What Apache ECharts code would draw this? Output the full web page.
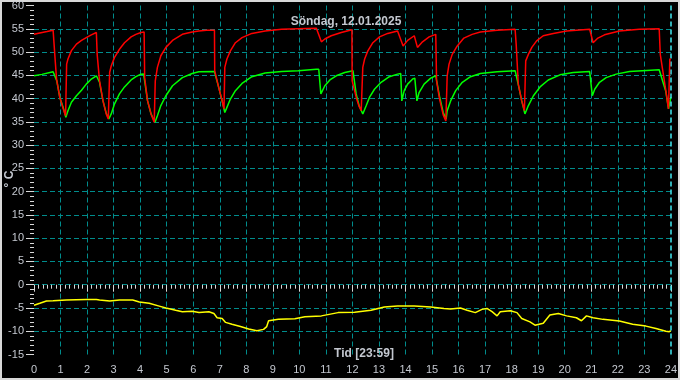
<!DOCTYPE html>
<html>
<head>
<meta charset="utf-8">
<script src="https://cdn.jsdelivr.net/npm/echarts@6/dist/echarts.min.js"></script>
<style>
html,body{margin:0;padding:0;background:#000;}
#c{width:680px;height:380px;}
</style>
</head>
<body>
<div id="c"></div>
<script>
const titleText = 'Söndag, 12.01.2025';
const xTitle = 'Tid [23:59]';
const yTitle = '° C';
const xTicks = [0,1,2,3,4,5,6,7,8,9,10,11,12,13,14,15,16,17,18,19,20,21,22,23,24];
const yTicks = [-15,-10,-5,0,5,10,15,20,25,30,35,40,45,50,55,60];

const redSeries = [[0,53.8],[0.22,54.1],[0.49,54.4],[0.72,54.7],[0.79,54.6],[0.80,48.1],[0.85,44.2],[0.97,40.3],[1.10,37.8],[1.19,36.3],[1.22,36.3],
[1.23,47.4],[1.28,48.5],[1.41,50.3],[1.60,51.7],[1.79,52.5],[1.97,53.1],[2.16,53.7],[2.35,54.2],
[2.37,54.2],[2.38,49.5],[2.47,43.8],[2.60,39.5],[2.72,36.7],[2.80,35.6],[2.84,35.6],
[2.85,45.6],[2.91,47.0],[3.03,48.8],[3.22,50.6],[3.41,52.0],[3.66,53.25],[3.84,53.8],[4.03,54.2],[4.15,54.3],
[4.17,44.5],[4.28,39.5],[4.41,36.7],[4.53,34.9],[4.56,34.9],
[4.57,43.8],[4.65,46.7],[4.78,49.2],[4.97,51.0],[5.22,52.5],[5.59,53.8],[5.96,54.3],[6.21,54.5],[6.5,54.7],[6.80,54.7],
[6.81,46.0],[6.96,42.4],[7.09,39.5],[7.16,37.8],[7.18,37.8],
[7.19,46.7],[7.27,48.5],[7.40,50.25],[7.59,52.0],[7.84,53.1],[8.21,54.0],[8.71,54.5],[9.33,54.9],[9.96,55.0],[10.64,55.1],
[10.68,55.1],[10.83,52.2],[10.96,52.8],[11.2,53.5],[11.58,54.2],[11.98,54.8],
[11.99,43.8],[12.14,40.3],[12.25,38.3],[12.33,37.4],[12.38,37.2],
[12.39,46.7],[12.46,48.5],[12.58,50.25],[12.77,52.0],[13.02,53.25],[13.33,54.0],[13.70,54.5],[13.77,54.6],
[13.91,51.3],[14.08,52.5],[14.33,53.5],[14.39,53.6],[14.45,51.0],[14.64,52.2],[14.89,53.25],[15.14,53.8],
[15.17,43.8],[15.28,40.0],[15.42,36.5],[15.52,35.2],[15.56,35.2],
[15.57,44.9],[15.64,47.4],[15.76,49.5],[15.95,51.3],[16.2,53.0],[16.51,53.8],[16.82,54.3],[17.45,54.7],[18.13,54.9],[18.16,54.9],
[18.17,51.7],[18.25,43.1],[18.38,39.5],[18.48,37.4],[18.52,37.4],
[18.53,48.1],[18.63,49.5],[18.76,51.0],[18.94,52.4],[19.19,53.5],[19.57,54.0],[20.07,54.5],[20.94,54.9],
[21.07,52.0],[21.25,53.0],[21.5,53.7],[22.06,54.5],[22.81,54.9],[23.56,55.0],[23.59,55.0],
[23.60,49.5],[23.81,41.7],[23.91,37.8],[23.94,37.8],[23.96,48.5],[24,48.5]];

const greenSeries = [[0,44.9],[0.3,45.2],[0.72,45.75],[0.79,45.7],[0.86,43.8],[0.97,40.3],[1.10,38.1],[1.20,36.0],
[1.28,37.4],[1.41,39.2],[1.60,40.6],[1.79,41.8],[1.97,43.1],[2.16,44.2],[2.35,44.9],[2.41,45.2],
[2.47,43.5],[2.6,39.5],[2.72,36.9],[2.82,35.6],
[2.91,36.7],[3.03,38.8],[3.22,41.0],[3.41,42.5],[3.66,44.0],[3.84,44.7],[4.03,45.25],[4.13,45.3],
[4.28,39.5],[4.41,36.7],[4.56,34.9],
[4.65,36.3],[4.78,38.5],[4.97,40.6],[5.22,42.75],[5.59,44.5],[5.96,45.4],[6.21,45.75],[6.8,45.8],
[6.96,42.4],[7.09,39.5],[7.19,37.0],
[7.27,38.1],[7.40,39.9],[7.59,41.7],[7.84,43.25],[8.21,44.7],[8.71,45.5],[9.33,45.8],[9.96,46.0],[10.64,46.3],[10.73,46.3],
[10.81,41.0],[10.83,41.3],[10.96,42.75],[11.15,44.0],[11.39,44.9],[11.71,45.6],[12.02,46.0],
[12.14,41.0],[12.25,38.5],[12.39,36.7],
[12.52,38.5],[12.64,40.25],[12.83,42.0],[13.08,43.5],[13.39,44.7],[13.70,45.25],[13.82,45.4],
[13.86,39.5],[13.95,41.7],[14.08,43.1],[14.27,44.2],[14.35,44.4],[14.43,39.5],[14.51,41.3],[14.70,43.1],[14.95,44.4],[15.14,44.9],
[15.28,40.5],[15.42,37.0],[15.53,35.6],
[15.57,37.4],[15.70,39.5],[15.89,41.7],[16.14,43.5],[16.45,44.7],[16.82,45.4],[17.45,45.75],[18.13,46.0],
[18.25,43.0],[18.38,39.5],[18.5,36.7],
[18.63,38.5],[18.82,40.6],[19.07,42.5],[19.38,44.0],[19.82,45.1],[20.32,45.6],[20.94,45.8],[21.0,45.7],
[21.04,40.6],[21.13,42.0],[21.31,43.5],[21.56,44.5],[21.94,45.25],[22.44,45.8],[23.56,46.2],[23.6,46.0],
[23.81,41.5],[23.91,37.8],[23.95,37.5],[24,40.3]];

const yellowSeries = [[0,-4.4],[0.22,-4.0],[0.47,-3.5],[0.72,-3.45],[1.22,-3.3],[1.97,-3.2],[2.35,-3.2],[2.47,-3.3],[2.85,-3.5],[3.22,-3.3],[3.72,-3.3],[3.97,-3.7],[4.34,-4.0],[4.72,-4.6],[4.97,-5.0],[5.34,-5.5],[5.59,-5.8],[5.96,-5.7],[6.22,-5.96],[6.59,-5.8],[6.78,-6.2],[6.9,-7.1],[7.09,-7.25],[7.22,-8.1],[7.46,-8.5],[7.78,-9.0],[8.09,-9.5],[8.4,-9.9],[8.65,-9.6],[8.77,-9.0],[8.84,-7.75],[9.21,-7.45],[9.83,-7.3],[10.21,-6.9],[10.83,-6.7],[11.46,-6.0],[12.08,-5.9],[12.7,-5.5],[13.2,-4.8],[13.7,-4.6],[14.33,-4.6],[14.95,-4.8],[15.45,-5.1],[15.7,-5.2],[16.07,-5.0],[16.32,-5.5],[16.63,-6.0],[16.7,-6.0],[16.88,-5.3],[17.07,-5.1],[17.26,-5.8],[17.45,-6.7],[17.57,-5.8],[17.95,-5.6],[18.2,-6.0],[18.38,-7.25],[18.69,-8.0],[18.88,-8.7],[19.19,-8.3],[19.44,-6.5],[19.76,-6.2],[20.07,-6.7],[20.44,-7.1],[20.63,-7.75],[20.82,-6.7],[21.07,-7.1],[21.44,-7.45],[22.06,-7.8],[22.56,-8.5],[23.06,-8.9],[23.44,-9.4],[23.81,-10.0],[23.94,-10.1],[24,-9.9]];

const FONT = '"Liberation Sans", Arial, sans-serif';
const LABEL = '#c4c8d0';
const GRID = '#008c8c';

const chart = echarts.init(document.getElementById('c'), null, {renderer:'canvas'});
chart.setOption({
  animation: false,
  backgroundColor: '#000',
  title: [
    {text: titleText, left: 341, top: 11, textAlign: 'center',
     textStyle: {color: LABEL, fontSize: 12, fontWeight: 'bold', fontFamily: FONT}},
    {text: xTitle, left: 359, top: 343, textAlign: 'center',
     textStyle: {color: LABEL, fontSize: 12, fontWeight: 'bold', fontFamily: FONT}}
  ],
  graphic: [
    {type: 'text', x: 10, y: 179, rotation: Math.PI/2,
     style: {text: yTitle, fill: LABEL, font: 'bold 12px ' + FONT, align: 'center', verticalAlign: 'middle'}},
    {type: 'rect', shape: {x: 1, y: 1, width: 678, height: 378},
     style: {fill: 'none', stroke: '#d8d8d8', lineWidth: 2}, silent: true}
  ],
  grid: {left: 34, right: 5, top: 4.5, bottom: 25.5, containLabel: false},
  xAxis: {
    type: 'value', min: xTicks[0], max: xTicks[xTicks.length-1], interval: 1,
    axisLine: {show: false},
    axisTick: {show: true, length: 7, lineStyle: {color: '#d8d8d8', width: 1}},
    minorTick: {show: true, splitNumber: 6, length: 4, lineStyle: {color: '#d8d8d8', width: 1}},
    axisLabel: {color: LABEL, fontSize: 11, fontFamily: FONT, margin: 10},
    splitLine: {show: true, showMinLine: false, showMaxLine: false,
      lineStyle: {color: GRID, type: [5,3], width: 1}}
  },
  yAxis: {
    type: 'value', min: yTicks[0], max: yTicks[yTicks.length-1], interval: 5,
    axisLine: {show: false},
    axisTick: {show: true, length: 8, lineStyle: {color: '#d8d8d8', width: 1}},
    minorTick: {show: true, splitNumber: 5, length: 4, lineStyle: {color: '#d8d8d8', width: 1}},
    axisLabel: {color: LABEL, fontSize: 11, fontFamily: FONT, margin: 10},
    splitLine: {show: true, showMinLine: false, showMaxLine: false,
      lineStyle: {color: GRID, type: [5,3], width: 1}}
  },
  series: [
    {type: 'line', data: yellowSeries, showSymbol: false, lineStyle: {color: '#ffff00', width: 1.5}, z: 3},
    {type: 'line', data: greenSeries, showSymbol: false, lineStyle: {color: '#00ff00', width: 1.5}, z: 4},
    {type: 'line', data: redSeries, showSymbol: false, lineStyle: {color: '#ff0000', width: 1.5}, z: 5,
     markLine: {silent: true, symbol: ['none','none'], label: {show: false},
       lineStyle: {color: '#40e8f0', type: [5,3], width: 1.5},
       data: [{xAxis: 24}]}}
  ]
});
</script>
</body>
</html>
